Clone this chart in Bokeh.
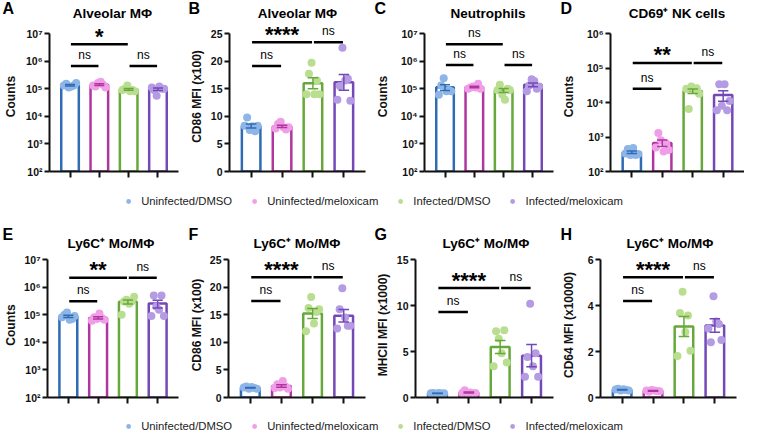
import numpy as np
from bokeh.plotting import figure
from bokeh.layouts import column, row
from bokeh.models import (Range1d, FixedTicker, CustomJSTickFormatter, Label,
                          Legend, LegendItem)
from bokeh.core.properties import value
from bokeh.embed import file_html
from bokeh.resources import INLINE

# ---------------- data ----------------
groups = ["Uninfected/DMSO", "Uninfected/meloxicam", "Infected/DMSO", "Infected/meloxicam"]
bar_colors = ["#2f6cb3", "#b1359f", "#67a83a", "#7548b8"]
point_colors = ["#8db5e8", "#f09ee8", "#b9de8f", "#b49be3"]
categories = [1, 2, 3, 4]

log_ticks_7 = [1e2, 1e3, 1e4, 1e5, 1e6, 1e7]
log_ticks_6 = [1e2, 1e3, 1e4, 1e5, 1e6]
mfi_ticks_25 = [0, 5, 10, 15, 20, 25]
mfi_ticks_15 = [0, 5, 10, 15]
mfi_ticks_6 = [0, 2, 4, 6]

# A  Alveolar MΦ counts
alv_counts = [[1.3e5, 1.5e5, 1.1e5, 1.2e5, 1.3e5, 1.6e5],
              [1.3e5, 1.2e5, 1.6e5, 1.8e5, 1.4e5, 1.1e5],
              [9e4, 1.0e5, 1.3e5, 8e4, 9e4, 8e4],
              [1.1e5, 9e4, 5.5e4, 1.2e5, 1.0e5, 1.0e5]]
alv_counts_sig = [(1, 3, 4.05e6, "*"), (1, 2, 6.6e5, "ns"), (3, 4, 6.6e5, "ns")]

# B  Alveolar MΦ CD86 MFI (x100)
alv_cd86 = [[8.3, 9.8, 7.5, 8.2, 7.3, 8.3],
            [7.8, 8.6, 9.0, 8.0, 7.6, 8.0],
            [14.0, 17.7, 19.7, 14.0, 16.5, 14.0],
            [13.0, 15.5, 22.4, 16.5, 16.8, 12.8]]
alv_cd86_sig = [(1, 3, 23.4, "****"), (3, 4, 23.4, "ns"), (1, 2, 19.1, "ns")]

# C  Neutrophil counts
neu_counts = [[6.0e4, 1.3e5, 2.4e5, 8e4, 9e4, 8e4],
              [1.0e5, 1.1e5, 1.2e5, 1.1e5, 1.5e5, 1.0e5],
              [9e4, 1.4e5, 6e4, 4e4, 1.0e5, 9e4],
              [8e4, 1.3e5, 2.2e5, 1.9e5, 1.0e5, 1.2e5]]
neu_counts_sig = [(1, 3, 4.1e6, "ns"), (1, 2, 7.2e5, "ns"), (3, 4, 7.2e5, "ns")]

# D  CD69+ NK cell counts
nk_counts = [[330, 450, 300, 480, 300, 320],
             [500, 1300, 800, 380, 650, 420],
             [2.5e4, 6.5e3, 2.9e4, 2.4e4, 2.6e4, 1.8e4],
             [6e3, 3.4e4, 8e3, 3.4e4, 6e3, 1.1e4]]
nk_counts_sig = [(1, 3, 1.4e5, "**"), (3, 4, 1.4e5, "ns"), (1, 2, 2.5e4, "ns")]

# E  Ly6C+ Mo/MΦ counts
ly6c_counts = [[8e4, 1.0e5, 1.2e5, 6.5e4, 7e4, 9e4],
               [6e4, 8e4, 7e4, 1.1e5, 7.5e4, 6.5e4],
               [1.0e5, 3.0e5, 3.5e5, 2.5e5, 3.0e5, 4.5e5],
               [9e4, 5e5, 2.0e5, 1.5e5, 5e5, 9e4]]
ly6c_counts_sig = [(1, 3, 2.2e6, "**"), (3, 4, 2.2e6, "ns"), (1, 2, 3.1e5, "ns")]

# F  Ly6C+ Mo/MΦ CD86 MFI (x100)
ly6c_cd86 = [[1.8, 2.0, 1.6, 1.9, 1.7, 1.6],
             [1.7, 2.4, 1.8, 3.0, 2.0, 1.6],
             [12.0, 16.2, 18.2, 13.4, 15.5, 16.0],
             [12.5, 16.0, 19.8, 14.5, 13.0, 13.0]]
ly6c_cd86_sig = [(1, 3, 21.8, "****"), (3, 4, 21.8, "ns"), (1, 2, 17.5, "ns")]

# G  Ly6C+ Mo/MΦ MHCII MFI (x1000)
ly6c_mhcii = [[0.45, 0.5, 0.42, 0.48, 0.44, 0.47],
              [0.5, 0.8, 0.45, 0.55, 0.4, 0.5],
              [3.4, 7.2, 6.4, 4.8, 7.3, 3.8],
              [2.25, 4.4, 10.2, 3.4, 4.8, 2.25]]
ly6c_mhcii_sig = [(1, 3, 11.9, "****"), (3, 4, 11.9, "ns"), (1, 2, 9.3, "ns")]

# H  Ly6C+ Mo/MΦ CD64 MFI (x10000)
ly6c_cd64 = [[0.35, 0.38, 0.30, 0.36, 0.33, 0.30],
             [0.30, 0.25, 0.33, 0.30, 0.28, 0.27],
             [1.8, 3.67, 4.6, 2.85, 3.57, 2.03],
             [3.0, 2.4, 4.4, 3.3, 3.2, 2.5]]
ly6c_cd64_sig = [(1, 3, 5.23, "****"), (3, 4, 5.23, "ns"), (1, 2, 4.2, "ns")]

# ---------------- layout / style ----------------
FONT = "Liberation Sans"
PANEL_W = 186
FH = 138          # frame height between lowest and highest tick
OFFSETS = [-0.21, -0.13, -0.045, 0.045, 0.13, 0.21]

log_fmt = CustomJSTickFormatter(code="""
const sup = ['\u2070','\u00b9','\u00b2','\u00b3','\u2074','\u2075','\u2076','\u2077','\u2078','\u2079'];
const e = Math.round(Math.log10(tick));
return '10' + String(e).split('').map(function(c){return sup[+c];}).join('');
""")

row1 = [
    dict(letter="A", title="Alveolar M\u03a6", ylabel="Counts", data=alv_counts, sig=alv_counts_sig,
         log=True, yr=(1e2, 1e7), ticks=log_ticks_7, left=42, fw=136, lstand=5),
    dict(letter="B", title="Alveolar M\u03a6", ylabel="CD86 MFI (x100)", data=alv_cd86, sig=alv_cd86_sig,
         log=False, yr=(0, 25), ticks=mfi_ticks_25, left=39, fw=140, lstand=4),
    dict(letter="C", title="Neutrophils", ylabel="Counts", data=neu_counts, sig=neu_counts_sig,
         log=True, yr=(1e2, 1e7), ticks=log_ticks_7, left=46, fw=135, lstand=8),
    dict(letter="D", title="CD69\u207a NK cells", ylabel="Counts", data=nk_counts, sig=nk_counts_sig,
         log=True, yr=(1e2, 1e6), ticks=log_ticks_6, left=47, fw=139, lstand=8),
]
row2 = [
    dict(letter="E", title="Ly6C\u207a Mo/M\u03a6", ylabel="Counts", data=ly6c_counts, sig=ly6c_counts_sig,
         log=True, yr=(1e2, 1e7), ticks=log_ticks_7, left=39, fw=139, lstand=3),
    dict(letter="F", title="Ly6C\u207a Mo/M\u03a6", ylabel="CD86 MFI (x100)", data=ly6c_cd86, sig=ly6c_cd86_sig,
         log=False, yr=(0, 25), ticks=mfi_ticks_25, left=38, fw=141, lstand=3),
    dict(letter="G", title="Ly6C\u207a Mo/M\u03a6", ylabel="MHCII MFI (x1000)", data=ly6c_mhcii, sig=ly6c_mhcii_sig,
         log=False, yr=(0, 15), ticks=mfi_ticks_15, left=42, fw=139, lstand=4),
    dict(letter="H", title="Ly6C\u207a Mo/M\u03a6", ylabel="CD64 MFI (x10000)", data=ly6c_cd64, sig=ly6c_cd64_sig,
         log=False, yr=(0, 6), ticks=mfi_ticks_6, left=41, fw=137, lstand=9),
]


def make_header(cfg, hh, letter_y, title_y):
    h = figure(width=PANEL_W, height=hh, x_range=Range1d(0, PANEL_W), y_range=Range1d(hh, 0),
               output_backend="svg", toolbar_location=None,
               x_axis_location=None, y_axis_location=None, min_border=0,
               frame_align=False)
    h.grid.visible = False
    h.outline_line_color = None
    h.text(x=[2], y=[letter_y], text=[cfg["letter"]], text_align="left", text_baseline="middle",
           text_font=value(FONT), text_font_size="16px", text_font_style="bold", text_color="black")
    h.text(x=[cfg["left"] + cfg["fw"] / 2 + 2], y=[title_y], text=[cfg["title"]], text_align="center",
           text_baseline="middle", text_font=value(FONT), text_font_size="13.5px",
           text_font_style="bold", text_color="black")
    return h


def make_panel(cfg, ext, bot_b):
    L = cfg["left"]
    R = PANEL_W - L - cfg["fw"]
    lo, hi = cfg["yr"]
    if cfg["log"]:
        dec = np.log10(hi) - np.log10(lo)
        top = hi * 10 ** (ext * dec / FH)
    else:
        top = hi + ext * (hi - lo) / FH
    p = figure(width=PANEL_W, height=ext + FH + bot_b,
               x_range=Range1d(0.3, 4.7), y_range=Range1d(lo, top),
               y_axis_type="log" if cfg["log"] else "linear",
               output_backend="svg", toolbar_location=None,
               min_border_left=L, min_border_right=R,
               min_border_top=0, min_border_bottom=bot_b)
    p.outline_line_color = None
    p.xgrid.visible = False
    p.ygrid.visible = False
    p.background_fill_color = "white"

    # y axis
    ya = p.yaxis[0]
    ya.bounds = (lo, hi)
    ya.ticker = FixedTicker(ticks=cfg["ticks"])
    if cfg["log"]:
        ya.formatter = log_fmt
    ya.axis_label = cfg["ylabel"]
    ya.axis_label_text_font = FONT
    ya.axis_label_text_font_style = "bold"
    ya.axis_label_text_font_size = "12px"
    ya.axis_label_text_color = "#111111"
    ya.axis_label_standoff = cfg["lstand"]
    ya.major_label_text_font = FONT
    ya.major_label_text_font_style = "bold"
    ya.major_label_text_font_size = "10.5px"
    ya.major_label_text_color = "#111111"
    ya.major_label_standoff = 2
    ya.axis_line_width = 2
    ya.axis_line_color = "#111111"
    ya.major_tick_line_width = 2
    ya.major_tick_line_color = "#111111"
    ya.major_tick_out = 5
    ya.major_tick_in = 0
    ya.minor_tick_out = 0
    ya.minor_tick_in = 0
    ya.minor_tick_line_color = None

    # x axis (ticks only, no labels)
    xa = p.xaxis[0]
    xa.ticker = FixedTicker(ticks=categories)
    xa.major_label_text_font_size = "1px"
    xa.major_label_text_color = None
    xa.major_label_standoff = 0
    xa.axis_line_width = 2
    xa.axis_line_color = "#111111"
    xa.major_tick_line_width = 2
    xa.major_tick_line_color = "#111111"
    xa.major_tick_out = 6
    xa.major_tick_in = 0
    xa.minor_tick_line_color = None

    data = cfg["data"]
    means = [float(np.mean(v)) for v in data]
    sems = [float(np.std(v, ddof=1) / np.sqrt(len(v))) for v in data]

    # bars
    p.vbar(x=categories, top=means, bottom=lo, width=0.6,
           fill_color="white", line_color=bar_colors, line_width=2.5)

    # points
    for c, vals, pc in zip(categories, data, point_colors):
        xs = [c + OFFSETS[i % len(OFFSETS)] for i in range(len(vals))]
        p.scatter(xs, vals, size=8, fill_color=pc, line_color=None)

    # error bars (mean ± SEM)
    ex = np.array(categories, dtype=float)
    m = np.array(means)
    s = np.array(sems)
    p.segment(x0=ex, y0=m - s, x1=ex, y1=m + s, line_color=bar_colors, line_width=1.5)
    p.segment(x0=ex - 0.17, y0=m + s, x1=ex + 0.17, y1=m + s, line_color=bar_colors, line_width=1.5)
    p.segment(x0=ex - 0.17, y0=m - s, x1=ex + 0.17, y1=m - s, line_color=bar_colors, line_width=1.5)

    # significance brackets
    sx0 = [a + 0.03 for a, b, y, t in cfg["sig"]]
    sx1 = [b - 0.03 for a, b, y, t in cfg["sig"]]
    sy = [y for a, b, y, t in cfg["sig"]]
    p.segment(x0=sx0, y0=sy, x1=sx1, y1=sy, line_color="black", line_width=2.5)
    for a, b, y, t in cfg["sig"]:
        star = t != "ns"
        p.add_layout(Label(x=(a + b) / 2, y=y, text=t, text_align="center",
                           text_baseline="middle",
                           y_offset=8 if star else 11,
                           text_font=FONT,
                           text_font_size="22px" if star else "12px",
                           text_font_style="bold" if star else "normal",
                           text_color="black"))
    return p


def make_legend(h):
    lf = figure(width=4 * PANEL_W, height=h, x_range=Range1d(1, 2), y_range=Range1d(1, 2),
                output_backend="svg", toolbar_location=None,
                x_axis_location=None, y_axis_location=None, min_border=0,
                frame_align=False)
    lf.grid.visible = False
    lf.outline_line_color = None
    items = []
    for g, c in zip(groups, point_colors):
        r = lf.scatter(x=[0], y=[0], size=5, fill_color=c, line_color=None)
        items.append(LegendItem(label=g, renderers=[r]))
    leg = Legend(items=items, orientation="horizontal", location="center",
                 label_text_font=FONT, label_text_font_size="11.3px",
                 label_text_color="#222222", glyph_width=14, glyph_height=12,
                 label_height=12, label_standoff=6, spacing=15, padding=0, margin=0,
                 border_line_alpha=0, background_fill_alpha=0)
    lf.add_layout(leg, "center")
    return lf


r1 = row(*[column(make_header(c, 21, 7.5, 12.5), make_panel(c, 12, 21)) for c in row1])
l1 = make_legend(18)
r2 = row(*[column(make_header(c, 42, 23.5, 33), make_panel(c, 7, 22)) for c in row2])
l2 = make_legend(13)

layout = column(r1, l1, r2, l2)

open("out.html", "w").write(file_html(layout, INLINE))
